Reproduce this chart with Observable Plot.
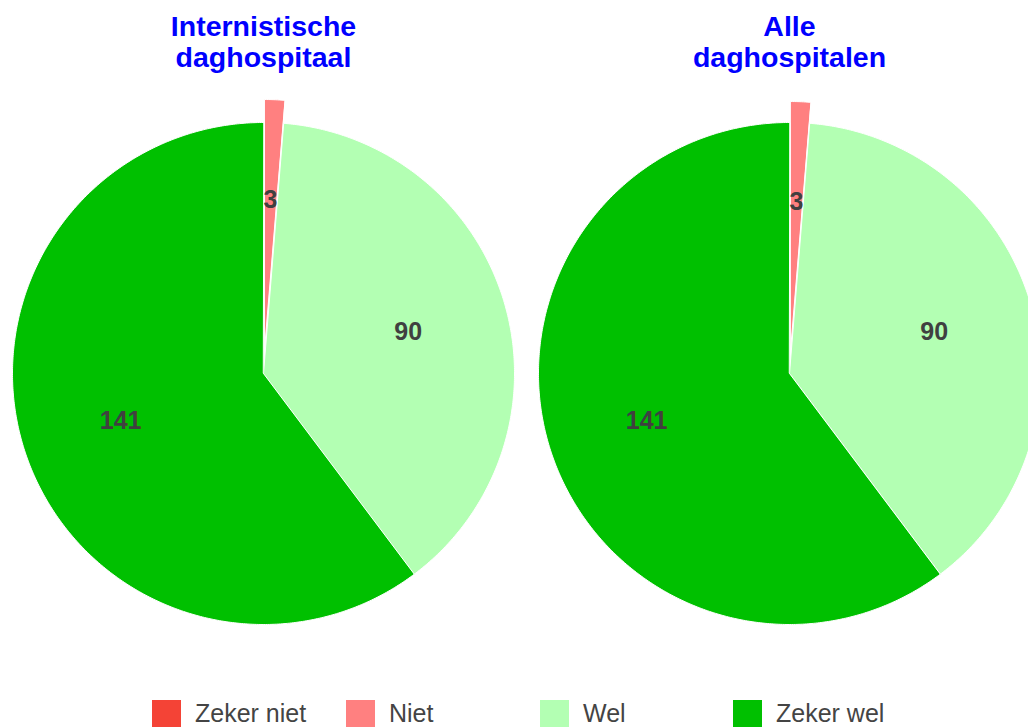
<!DOCTYPE html>
<html><head><meta charset="utf-8">
<script src="https://cdn.jsdelivr.net/npm/d3@7"></script>
<script src="https://cdn.jsdelivr.net/npm/@observablehq/plot@0.6"></script>
<style>
html,body{margin:0;padding:0;background:#fff;overflow:hidden;}
#legend{position:relative;height:27px;font-family:"Liberation Sans",Arial,sans-serif;font-size:25px;color:#444;}
.item{position:absolute;top:0;display:flex;align-items:flex-start;white-space:nowrap;}
.sw{width:29px;height:29px;margin-right:14px;}
.lb{line-height:27px;}
</style></head><body>
<div id="chart"></div>
<div id="legend"></div>
<script>
// ---- data ----
const categories = ["Zeker niet", "Niet", "Wel", "Zeker wel"];
const colors = ["#f44336", "#ff8080", "#b3ffb3", "#00c000"];
const pieTitles = ["Internistische\ndaghospitaal", "Alle\ndaghospitalen"];
const internistischeValues = [0, 3, 90, 141];
const alleValues = [0, 3, 90, 141];
const explodedCategory = "Niet";

// ---- layout ----
const W = 1028, H = 700, R = 251;
const centersPx = [263, 789], cyPx = 373;
const explodePx = [23, 21];
const u = (px) => (px - centersPx[0]) / R;   // px -> unit coords (x)
const v = (py) => (py - cyPx) / R;          // px -> unit coords (y, downwards)

const pieValues = [internistischeValues, alleValues];
const features = [];
const labels = [];
const titles = [];
const step = Math.PI / 360;
pieValues.forEach((vals, p) => {
  const cx = u(centersPx[p]), cy = 0;
  const data = categories.map((c, i) => ({category: c, value: vals[i]}));
  const arcs = d3.pie().sort(null).value(d => d.value).startAngle(0).endAngle(2 * Math.PI)(data);
  arcs.forEach(a => {
    if (a.data.value <= 0) return;
    const mid = (a.startAngle + a.endAngle) / 2;
    const off = a.data.category === explodedCategory ? explodePx[p] / R : 0;
    const ox = cx + off * Math.sin(mid), oy = cy - off * Math.cos(mid);
    const ring = [[ox, oy]];
    for (let t = a.startAngle; t < a.endAngle; t += step) ring.push([ox + Math.sin(t), oy - Math.cos(t)]);
    ring.push([ox + Math.sin(a.endAngle), oy - Math.cos(a.endAngle)]);
    ring.push([ox, oy]);
    features.push({type: "Feature", properties: {category: a.data.category}, geometry: {type: "Polygon", coordinates: [ring]}});
    labels.push({x: ox + 0.6 * Math.sin(mid), y: oy - 0.6 * Math.cos(mid), text: String(a.data.value)});
  });
  titles.push({x: cx, y: v(13), text: pieTitles[p]});
});

const frame = {type: "MultiPoint", coordinates: [[u(0), v(0)], [u(W), v(H)]]};

const chart = Plot.plot({
  width: W, height: H,
  margin: 0,
  projection: {type: "identity", domain: frame},
  color: {domain: categories, range: colors},
  style: {background: "#fff", overflow: "hidden"},
  marks: [
    Plot.geo(features, {fill: d => d.properties.category, stroke: "white", strokeWidth: 1}),
    Plot.text(labels, {x: "x", y: "y", text: "text", fontSize: 25, fontWeight: "bold", fill: "#404040",
      fontFamily: "Liberation Sans, Arial, sans-serif"}),
    Plot.text(titles, {x: "x", y: "y", text: "text", fontSize: 28.5, fontWeight: "bold", fill: "#0000ff",
      lineAnchor: "top", lineHeight: 31 / 28.5, fontFamily: "Liberation Sans, Arial, sans-serif"})
  ]
});
document.getElementById("chart").appendChild(chart);

// ---- legend ----
const legend = document.getElementById("legend");
const legendLeft = [152, 346, 540, 733];
categories.forEach((c, i) => {
  const it = document.createElement("div");
  it.className = "item";
  it.style.left = legendLeft[i] + "px";
  it.innerHTML = `<div class="sw" style="background:${colors[i]}"></div><div class="lb">${c}</div>`;
  legend.appendChild(it);
});
</script>
</body></html>
